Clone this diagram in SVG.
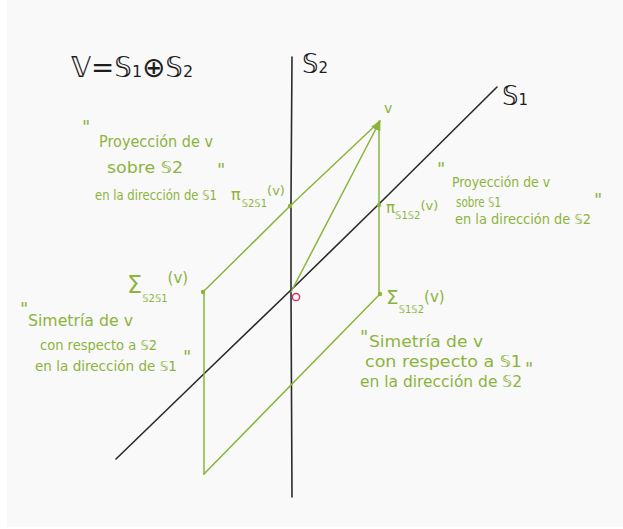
<svg xmlns="http://www.w3.org/2000/svg" width="623" height="529" viewBox="0 0 623 529">
<defs>
<style>
.ax{fill:none;stroke:#2a2a2a;stroke-width:1.6;stroke-linecap:round;stroke-linejoin:round}
.gl{fill:none;stroke:#8cb43c;stroke-width:1.5;stroke-linecap:round;stroke-linejoin:round}
.dot{fill:#8cb43c}
.bk{font-family:"DejaVu Sans","Liberation Sans",sans-serif;fill:#1e1e1e}
.gt{font-family:"DejaVu Sans","Liberation Sans",sans-serif;fill:#8cb43c}
.q{font-size:18px}
</style>
<marker id="arr" viewBox="0 0 10 10" refX="9" refY="5" markerWidth="7" markerHeight="7" orient="auto">
<path d="M0,0 L10,5 L0,10 z" fill="#8cb43c"/>
</marker>
</defs>
<rect x="0" y="0" width="623" height="529" fill="#ffffff"/>
<rect x="7" y="0" width="616" height="527" fill="#f9f9f9"/>

<g id="axes">
<polyline class="ax" points="292,57 291,200 291,292 292,497"/>
<polyline class="ax" points="116,459 210,368 291,290 379,204 497,87"/>
</g>

<g id="connectors">
<line class="gl" x1="291" y1="292" x2="380" y2="121" marker-end="url(#arr)"/>
<line class="gl" x1="379" y1="121" x2="379" y2="294"/>
<polyline class="gl" points="379,122 290,206 203,292"/>
<line class="gl" x1="204" y1="292" x2="204" y2="474"/>
<line class="gl" x1="204" y1="474" x2="380" y2="294"/>
<circle class="dot" cx="290" cy="206" r="2.2"/>
<circle class="dot" cx="379" cy="205" r="2.2"/>
<circle class="dot" cx="203" cy="292" r="2.2"/>
<circle class="dot" cx="380" cy="294" r="2.2"/>
</g>

<g id="title">
<text class="bk" x="71" y="77" font-size="28" textLength="122" lengthAdjust="spacingAndGlyphs">𝕍=𝕊<tspan font-size="16">1</tspan>⊕𝕊<tspan font-size="16">2</tspan></text>
</g>

<g id="label-S2">
<text class="bk" x="302" y="73" font-size="26">𝕊<tspan font-size="15">2</tspan></text>
</g>

<g id="label-S1">
<text class="bk" x="502" y="105" font-size="26">𝕊<tspan font-size="15">1</tspan></text>
</g>

<g id="origin">
<circle cx="296" cy="297" r="3.6" fill="none" stroke="#d6336c" stroke-width="1.5"/>
</g>

<g id="label-v">
<text class="gt" x="384" y="113" font-size="14">v</text>
</g>

<g id="proj-S2S1">
<text class="gt q" x="82" y="133">"</text>
<text class="gt" x="99" y="147" font-size="15" textLength="114" lengthAdjust="spacingAndGlyphs">Proyección de v</text>
<text class="gt" x="107" y="173" font-size="16" textLength="76" lengthAdjust="spacingAndGlyphs">sobre 𝕊2</text>
<text class="gt" x="95" y="200" font-size="14" textLength="122" lengthAdjust="spacingAndGlyphs">en la dirección de 𝕊1</text>
<text class="gt q" x="217" y="176">"</text>
<text class="gt" x="231" y="200" font-size="16">π<tspan font-size="10" dx="1" dy="7">𝕊2𝕊1</tspan><tspan font-size="13" dy="-12">(v)</tspan></text>
</g>

<g id="proj-S1S2">
<text class="gt q" x="437" y="175">"</text>
<text class="gt" x="452" y="187" font-size="14" textLength="98" lengthAdjust="spacingAndGlyphs">Proyección de v</text>
<text class="gt" x="456" y="207" font-size="14" textLength="45" lengthAdjust="spacingAndGlyphs">sobre 𝕊1</text>
<text class="gt" x="455" y="224" font-size="14" textLength="136" lengthAdjust="spacingAndGlyphs">en la dirección de 𝕊2</text>
<text class="gt q" x="594" y="206">"</text>
<text class="gt" x="386" y="213" font-size="15">π<tspan font-size="10" dy="6">𝕊1𝕊2</tspan><tspan font-size="13" dy="-9">(v)</tspan></text>
</g>

<g id="sym-S2S1">
<text class="gt" x="127" y="293" font-size="24">Σ<tspan font-size="10" dy="9">𝕊2𝕊1</tspan><tspan font-size="15" dy="-19">(v)</tspan></text>
<text class="gt q" x="20" y="315">"</text>
<text class="gt" x="28" y="326" font-size="15" textLength="105" lengthAdjust="spacingAndGlyphs">Simetría de v</text>
<text class="gt" x="40" y="350" font-size="14" textLength="117" lengthAdjust="spacingAndGlyphs">con respecto a 𝕊2</text>
<text class="gt" x="35" y="371" font-size="14" textLength="142" lengthAdjust="spacingAndGlyphs">en la dirección de 𝕊1</text>
<text class="gt q" x="183" y="363">"</text>
</g>

<g id="sym-S1S2">
<text class="gt" x="386" y="304" font-size="20">Σ<tspan font-size="10" dy="9">𝕊1𝕊2</tspan><tspan font-size="15" dy="-11">(v)</tspan></text>
<text class="gt q" x="360" y="343">"</text>
<text class="gt" x="369" y="347" font-size="16" textLength="114" lengthAdjust="spacingAndGlyphs">Simetría de v</text>
<text class="gt" x="365" y="367" font-size="16" textLength="157" lengthAdjust="spacingAndGlyphs">con respecto a 𝕊1</text>
<text class="gt" x="360" y="387" font-size="15" textLength="162" lengthAdjust="spacingAndGlyphs">en la dirección de 𝕊2</text>
<text class="gt q" x="525" y="375">"</text>
</g>
</svg>
